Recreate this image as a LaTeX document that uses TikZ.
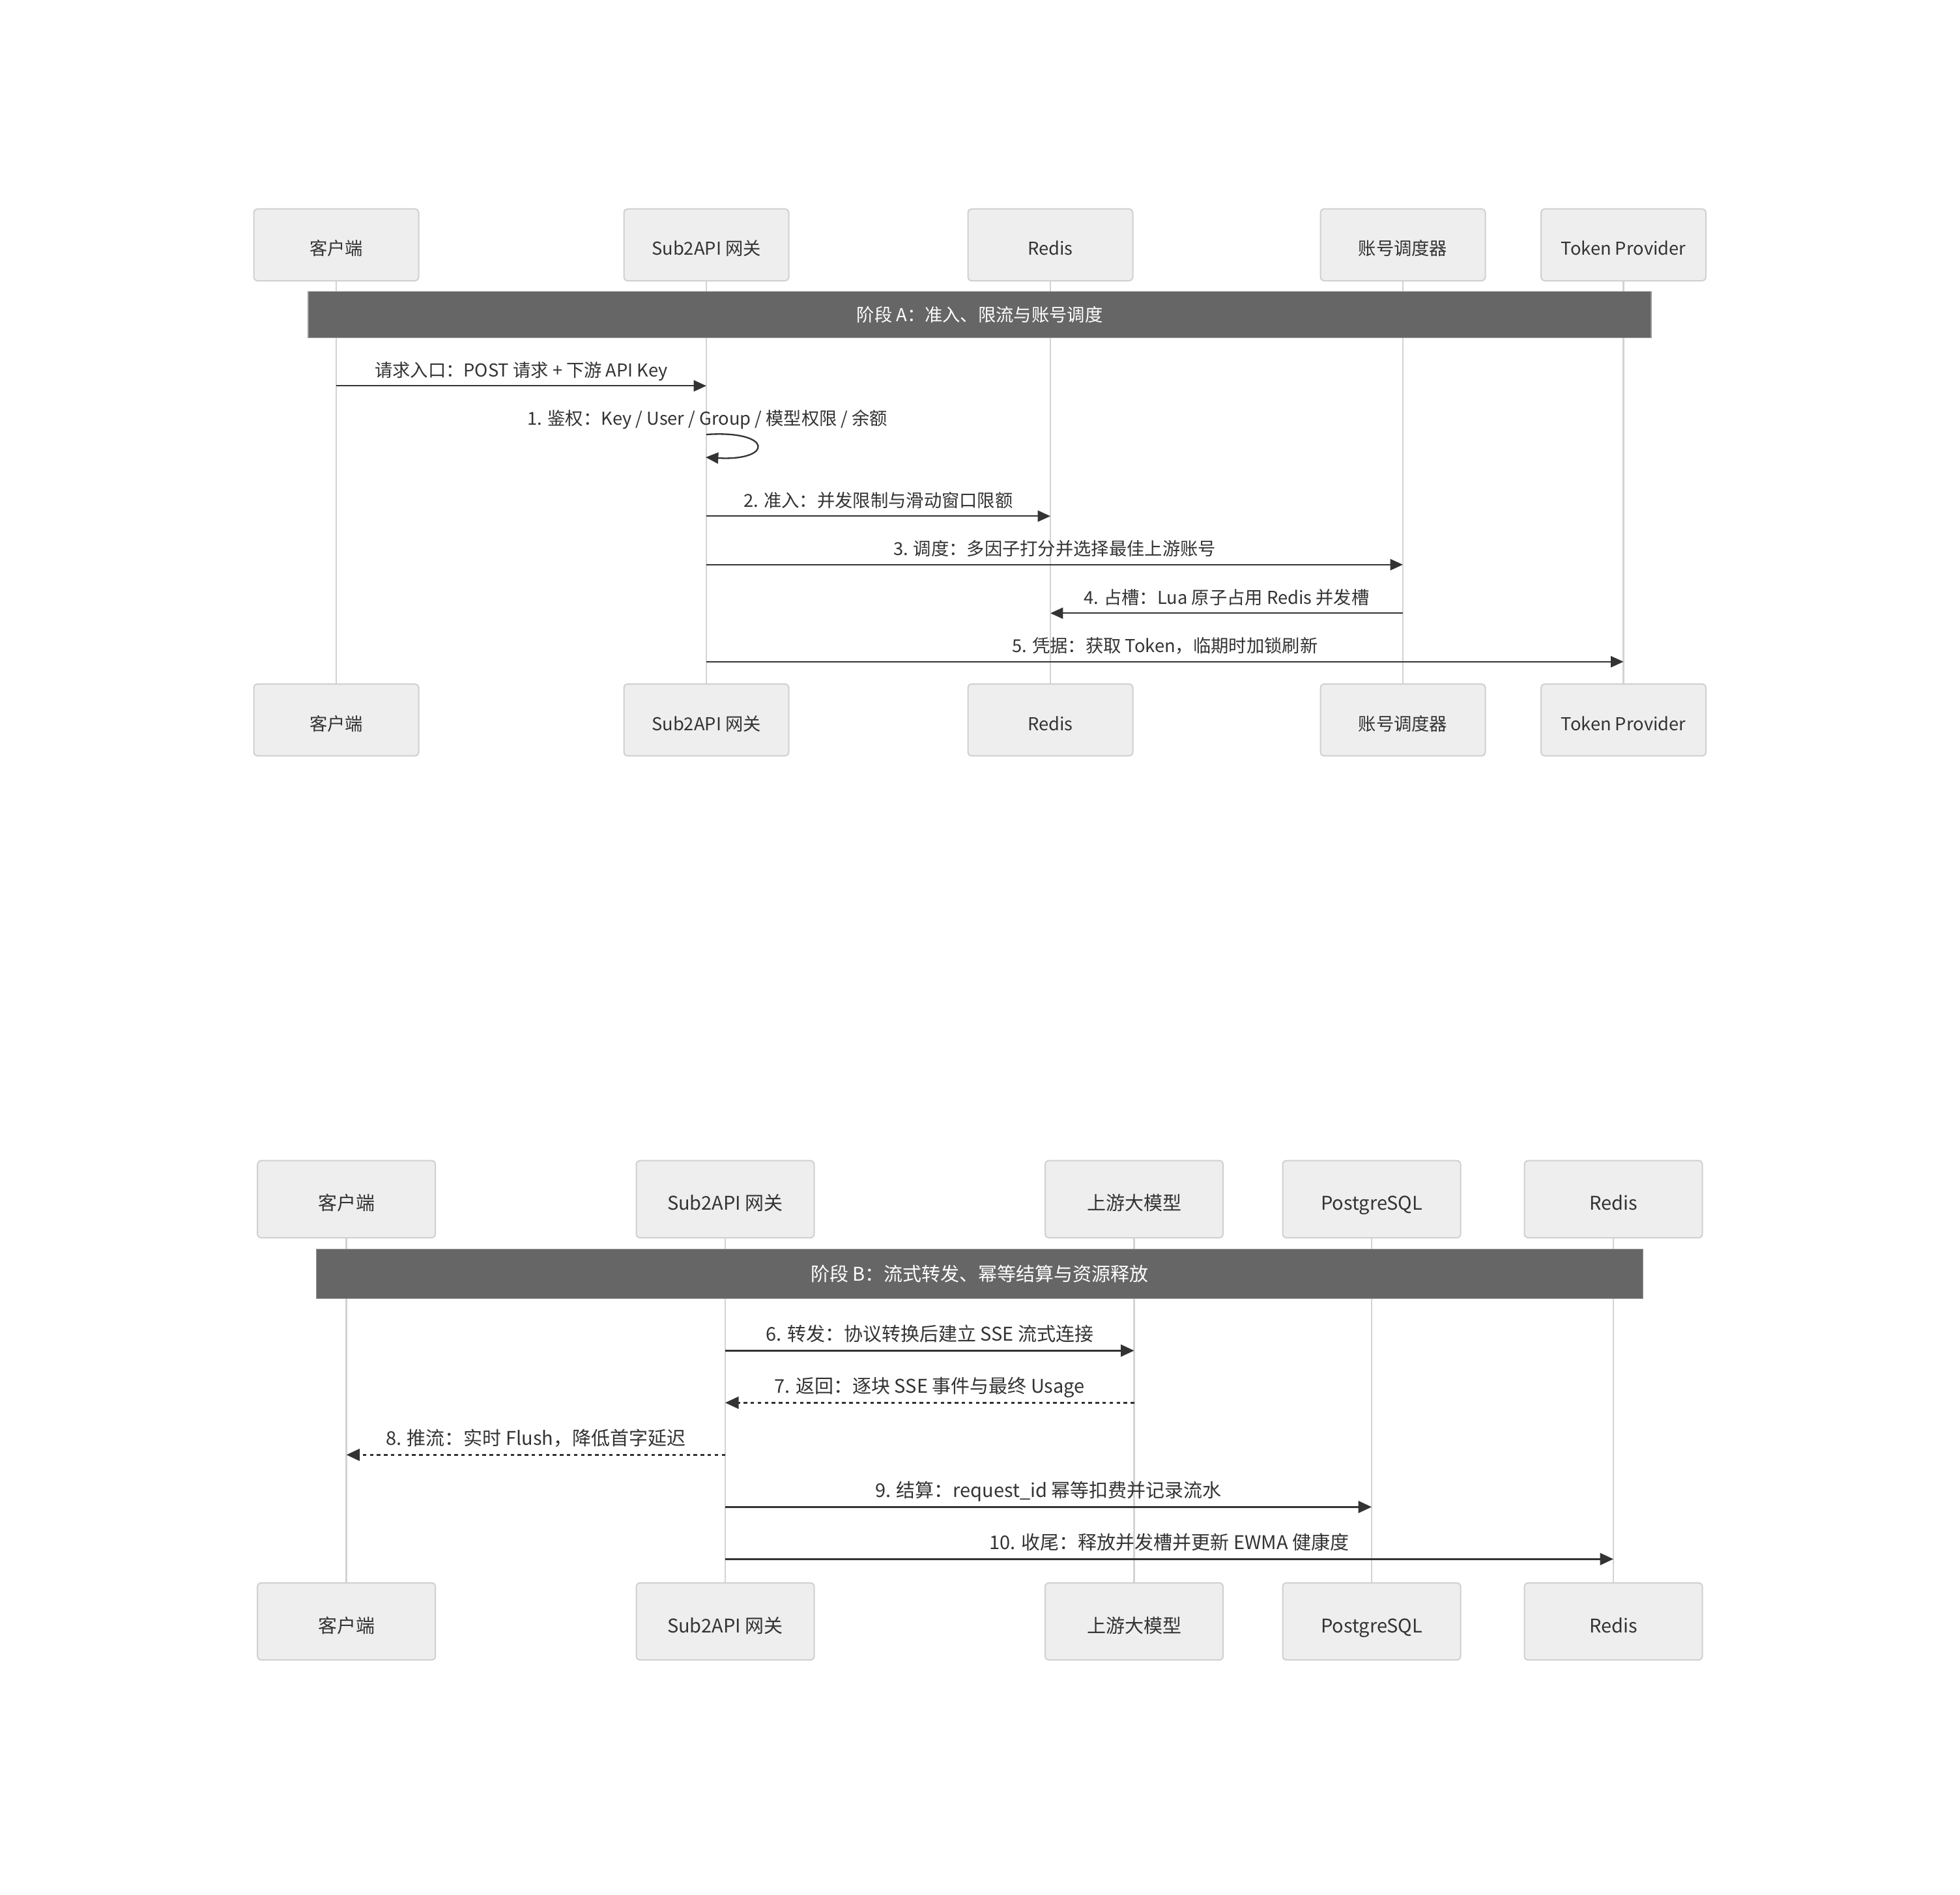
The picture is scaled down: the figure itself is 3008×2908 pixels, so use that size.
\documentclass[tikz,border=0pt]{standalone}
\usepackage{fontspec}
\setmainfont{Noto Sans CJK SC}
\usetikzlibrary{arrows.meta}
\definecolor{boxfill}{HTML}{EEEEEE}
\definecolor{boxline}{HTML}{D0D0D0}
\definecolor{lifec}{HTML}{D3D3D3}
\definecolor{barfill}{HTML}{666666}
\definecolor{barline}{HTML}{999999}
\definecolor{ink}{HTML}{333333}
\newcommand{\fsA}{\fontsize{13.65pt}{16pt}\selectfont}
\newcommand{\fsB}{\fontsize{14.5pt}{17pt}\selectfont}
\tikzset{
  actA/.style={draw=boxline, fill=boxfill, line width=1pt, rounded corners=2.7pt,
    minimum width=126.5pt, minimum height=55.15pt, inner sep=0pt, text=ink,
    font=\fsA, text height=16pt, text depth=0pt},
  actB/.style={draw=boxline, fill=boxfill, line width=1pt, rounded corners=2.9pt,
    minimum width=136.5pt, minimum height=59.15pt, inner sep=0pt, text=ink,
    font=\fsB, text height=17pt, text depth=0pt},
  phaseAbar/.style={draw=barline, fill=barfill, line width=0.6pt,
    minimum width=1030.5pt, minimum height=35.5pt, inner sep=0pt, text=white,
    font=\fsA, text height=10.5pt, text depth=0pt},
  phaseBbar/.style={draw=barline, fill=barfill, line width=0.6pt,
    minimum width=1018.15pt, minimum height=37.8pt, inner sep=0pt, text=white,
    font=\fsB, text height=11.2pt, text depth=0pt},
  lifeA/.style={draw=lifec, line width=1.2pt},
  lifeB/.style={draw=lifec, line width=1.3pt},
  msgA/.style={anchor=base, inner sep=0pt, text=ink, font=\fsA},
  msgB/.style={anchor=base, inner sep=0pt, text=ink, font=\fsB},
  arrA/.style={draw=ink, line width=1.15pt, -{Triangle[length=9.65pt,width=8.5pt]}},
  arrB/.style={draw=ink, line width=1.25pt, -{Triangle[length=10.25pt,width=9.25pt]}},
  dotB/.style={dash pattern=on 2.7pt off 2.7pt}
}
\begin{document}
\begin{tikzpicture}[x=0.5pt,y=-0.5pt]
\fill[white] (0,0) rectangle (3008,2908);
\useasboundingbox (0,0) rectangle (3008,2908);

% ---------------- Section A ----------------
\node[actA] (a1) at (516,375.85) {客户端};
\node[actA] (a2) at (1084,375.85) {Sub2API 网关};
\node[actA] (a3) at (1612,375.85) {Redis};
\node[actA] (a4) at (2153,375.85) {账号调度器};
\node[actA] (a5) at (2491.5,375.85) {Token Provider};

\node[actA] (a1b) at (516,1105.15) {客户端};
\node[actA] (a2b) at (1084,1105.15) {Sub2API 网关};
\node[actA] (a3b) at (1612,1105.15) {Redis};
\node[actA] (a4b) at (2153,1105.15) {账号调度器};
\node[actA] (a5b) at (2491.5,1105.15) {Token Provider};

\foreach \i in {1,...,5} \draw[lifeA] (a\i.south) -- (a\i b.north);

\node[phaseAbar] (phaseA) at (1503.5,482.8) {阶段 A：准入、限流与账号调度};

\coordinate (m0s) at (516,592.3);   \coordinate (m0e) at (1084,592.3);
\draw[arrA] (m0s) -- (m0e);
\node[msgA] (t0) at (800,578.3) {请求入口：POST 请求 + 下游 API Key};

\coordinate (m1s) at (1084,667);    \coordinate (m1e) at (1083,702);
\draw[arrA] (m1s) .. controls (1187,660) and (1187,708) .. (m1e);
\node[msgA] (t1) at (1086,652) {1. 鉴权：Key / User / Group / 模型权限 / 余额};

\coordinate (m2s) at (1084,792.3);  \coordinate (m2e) at (1612,792.3);
\draw[arrA] (m2s) -- (m2e);
\node[msgA] (t2) at (1348,778.3) {2. 准入：并发限制与滑动窗口限额};

\coordinate (m3s) at (1084,866.8);  \coordinate (m3e) at (2153,866.8);
\draw[arrA] (m3s) -- (m3e);
\node[msgA] (t3) at (1618.5,852.8) {3. 调度：多因子打分并选择最佳上游账号};

\coordinate (m4s) at (2153,941.3);  \coordinate (m4e) at (1612,941.3);
\draw[arrA] (m4s) -- (m4e);
\node[msgA] (t4) at (1882.5,927.3) {4. 占槽：Lua 原子占用 Redis 并发槽};

\coordinate (m5s) at (1084,1015.8); \coordinate (m5e) at (2491.5,1015.8);
\draw[arrA] (m5s) -- (m5e);
\node[msgA] (t5) at (1787.8,1001.8) {5. 凭据：获取 Token，临期时加锁刷新};

% ---------------- Section B ----------------
\node[actB] (b1) at (531.7,1840.85) {客户端};
\node[actB] (b2) at (1113,1840.85) {Sub2API 网关};
\node[actB] (b3) at (1740.5,1840.85) {上游大模型};
\node[actB] (b4) at (2105,1840.85) {PostgreSQL};
\node[actB] (b5) at (2476,1840.85) {Redis};

\node[actB] (b1b) at (531.7,2489) {客户端};
\node[actB] (b2b) at (1113,2489) {Sub2API 网关};
\node[actB] (b3b) at (1740.5,2489) {上游大模型};
\node[actB] (b4b) at (2105,2489) {PostgreSQL};
\node[actB] (b5b) at (2476,2489) {Redis};

\foreach \i in {1,...,5} \draw[lifeB] (b\i.south) -- (b\i b.north);

\node[phaseBbar] (phaseB) at (1503.45,1955.5) {阶段 B：流式转发、幂等结算与资源释放};

\coordinate (n6s) at (1113,2073.3);   \coordinate (n6e) at (1740.5,2073.3);
\draw[arrB] (n6s) -- (n6e);
\node[msgB] (u6) at (1426.75,2058.3) {6. 转发：协议转换后建立 SSE 流式连接};

\coordinate (n7s) at (1740.5,2153.3); \coordinate (n7e) at (1113,2153.3);
\draw[arrB,dotB] (n7s) -- (n7e);
\node[msgB] (u7) at (1426.75,2138.3) {7. 返回：逐块 SSE 事件与最终 Usage};

\coordinate (n8s) at (1113,2233.3);   \coordinate (n8e) at (531.7,2233.3);
\draw[arrB,dotB] (n8s) -- (n8e);
\node[msgB] (u8) at (822.35,2218.3) {8. 推流：实时 Flush，降低首字延迟};

\coordinate (n9s) at (1113,2313.3);   \coordinate (n9e) at (2105,2313.3);
\draw[arrB] (n9s) -- (n9e);
\node[msgB] (u9) at (1609,2298.3) {9. 结算：request\_id 幂等扣费并记录流水};

\coordinate (n10s) at (1113,2393.3);  \coordinate (n10e) at (2476,2393.3);
\draw[arrB] (n10s) -- (n10e);
\node[msgB] (u10) at (1794.5,2378.3) {10. 收尾：释放并发槽并更新 EWMA 健康度};
\end{tikzpicture}
\end{document}
